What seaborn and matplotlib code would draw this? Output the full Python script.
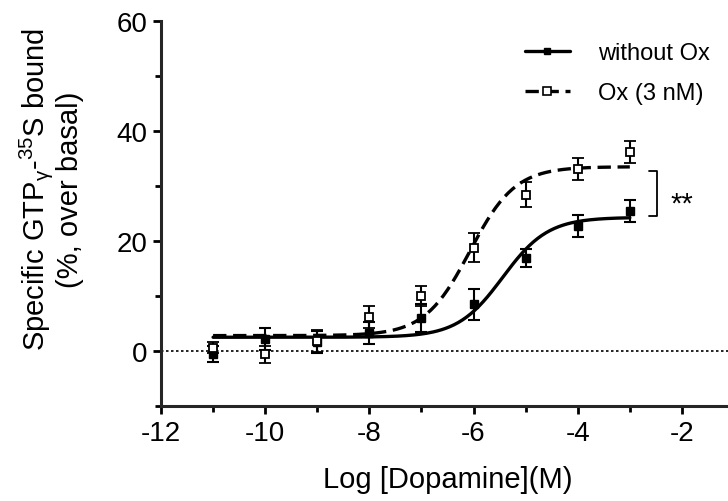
import numpy as np
import pandas as pd
import matplotlib
matplotlib.use("Agg")
import matplotlib.pyplot as plt
from matplotlib.lines import Line2D
from matplotlib.ticker import MultipleLocator
import seaborn as sns

# log dose and responses (mean +- SEM)
log_dose = [-11, -10, -9, -8, -7, -6, -5, -4, -3]
ctrl_mean = [-0.5, 2.2, 1.6, 3.2, 6.0, 8.5, 16.9, 22.7, 25.5]
ctrl_sem = [1.5, 2.0, 2.0, 2.0, 2.5, 2.8, 1.7, 2.0, 2.0]
ox_mean = [0.6, -0.6, 1.8, 6.2, 10.0, 18.8, 28.4, 33.1, 36.2]
ox_sem = [1.0, 1.5, 2.0, 2.0, 1.8, 2.7, 2.3, 2.0, 2.0]

# sigmoidal fit parameters: bottom, top, logEC50, hill slope
ctrl_fit = (2.5, 24.3, -5.44, 1.0)
ox_fit = (2.8, 33.5, -6.07, 1.0)

labels = ["without Ox", "Ox (3 nM)"]


def sigmoid(x, p):
    bottom, top, ec50, hill = p
    return bottom + (top - bottom) / (1 + 10 ** ((ec50 - x) * hill))


xs = np.linspace(-11, -3, 200)
fits = pd.concat([
    pd.DataFrame({"x": xs, "y": sigmoid(xs, ctrl_fit), "group": labels[0]}),
    pd.DataFrame({"x": xs, "y": sigmoid(xs, ox_fit), "group": labels[1]}),
])

sns.set_style("ticks")
plt.rcParams['font.family'] = ['Liberation Sans', 'DejaVu Sans']
plt.rcParams['mathtext.fontset'] = 'custom'
plt.rcParams['mathtext.rm'] = 'Liberation Sans'
plt.rcParams['axes.unicode_minus'] = False
plt.rcParams['text.color'] = 'black'
plt.rcParams['axes.labelcolor'] = 'black'
plt.rcParams['xtick.color'] = 'black'
plt.rcParams['ytick.color'] = 'black'

fig = plt.figure(figsize=(7.28, 5.02), dpi=100)
ax = fig.add_axes([161 / 728, 1 - 407 / 502, 573 / 728, 385 / 502])

ax.axhline(0, color="black", lw=1.2, ls=(0, (1.5, 1.5)), zorder=1)

g = sns.lineplot(ax=ax, data=fits, x="x", y="y", hue="group", style="group",
                 palette=["black", "black"], dashes=[(None, None), (4, 2)],
                 linewidth=2.4, legend=False, zorder=2)

ax.errorbar(log_dose, ctrl_mean, yerr=ctrl_sem, fmt="s", color="black",
            mfc="black", ms=6, capsize=4, elinewidth=1.5, capthick=1.5, zorder=3)
ax.errorbar(log_dose, ox_mean, yerr=ox_sem, fmt="s", color="black",
            mfc="white", ms=6, mew=1.3, capsize=4, elinewidth=1.5, capthick=1.5, zorder=4)

# significance bracket
ax.plot([-2.63, -2.48, -2.48, -2.63], [32.7, 32.7, 24.5, 24.5], color="black", lw=1.3)
ax.text(-2.0, 26.8, "**", fontsize=21, ha="center", va="center")

ax.set_xlim(-12, -1)
ax.set_ylim(-10, 60)
ax.xaxis.set_major_locator(MultipleLocator(2))
ax.xaxis.set_minor_locator(MultipleLocator(1))
ax.yaxis.set_minor_locator(MultipleLocator(10))
ax.set_yticks([0, 20, 40, 60])
ax.tick_params(which="major", length=6, width=2, labelsize=20, pad=4)
ax.tick_params(which="minor", length=4, width=2)
for s in ["top", "right"]:
    ax.spines[s].set_visible(False)
for s in ["left", "bottom"]:
    ax.spines[s].set_linewidth(2.2)

g.set_xlabel("Log [Dopamine](M)", fontsize=21, labelpad=14)
g.set_ylabel("Specific GTP$_\\mathregular{γ}$-$^\\mathregular{35}$S bound\n(%, over basal)",
             fontsize=21, linespacing=1.05)
ax.yaxis.set_label_coords(-0.134, 0.565)

handles = [
    Line2D([], [], color="black", lw=2.4, marker="s", ms=5, mfc="black"),
    Line2D([], [], color="black", lw=2.4, ls=(0, (4, 2)), marker="s", ms=6, mfc="white", mew=1.2),
]
ax.legend(handles, labels, loc="upper right", bbox_to_anchor=(0.995, 1.0), frameon=False,
          fontsize=17, handlelength=1.9, handletextpad=1.2, labelspacing=0.75, numpoints=1)

plt.savefig("out.png", dpi=100)
